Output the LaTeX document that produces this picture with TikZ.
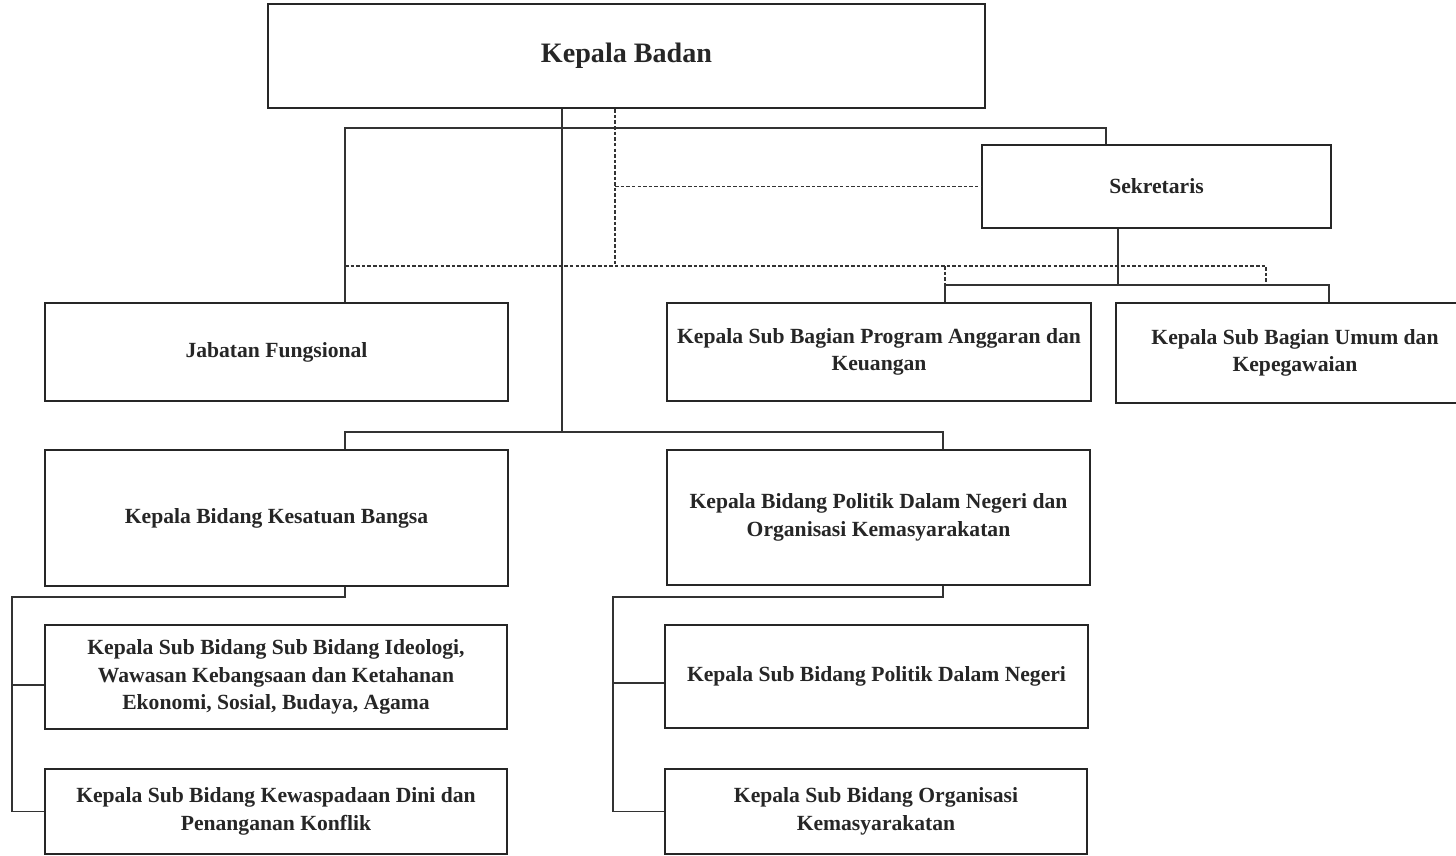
\documentclass[tikz,border=0pt]{standalone}
\usepackage{fontspec}
\setmainfont{Liberation Serif}
\usepackage{tikz}

\begin{document}
\begin{tikzpicture}[
        unit/.style={draw=black!85,line width=1.3pt,align=center,inner sep=2pt,
                     font=\fontsize{12.3}{15.6}\selectfont\bfseries,text=black!85},
        link/.style={black!80,line width=0.6pt},
        dlink/.style={black!80,line width=0.6pt,dash pattern=on 2pt off 1.2pt}
    ]
        \useasboundingbox (0,0) rectangle (29.12,-17.12);

        \node[unit,minimum width=14.34cm,minimum height=2.08cm,font=\fontsize{16}{19}\selectfont\bfseries] (kb) at (12.53,-1.12) {Kepala Badan};
        \node[unit,minimum width=6.98cm,minimum height=1.66cm] (sek) at (23.13,-3.73) {Sekretaris};

        \node[unit,minimum width=9.26cm,minimum height=1.96cm] (jab) at (5.53,-7.04) {Jabatan Fungsional};
        \node[unit,minimum width=8.48cm,minimum height=1.96cm] (prog) at (17.58,-7.04) {Kepala Sub Bagian Program Anggaran dan\\Keuangan};
        \node[unit,minimum width=7.16cm,minimum height=2.00cm] (umum) at (25.90,-7.06) {Kepala Sub Bagian Umum dan\\Kepegawaian};

        \node[unit,minimum width=9.26cm,minimum height=2.72cm] (kesb) at (5.53,-10.36) {Kepala Bidang Kesatuan Bangsa};
        \node[unit,minimum width=8.46cm,minimum height=2.70cm] (pol) at (17.57,-10.35) {Kepala Bidang Politik Dalam Negeri dan\\Organisasi Kemasyarakatan};

        \node[unit,minimum width=9.24cm,minimum height=2.08cm] (ideo) at (5.52,-13.54) {Kepala Sub Bidang Sub Bidang Ideologi,\\Wawasan Kebangsaan dan Ketahanan\\Ekonomi, Sosial, Budaya, Agama};
        \node[unit,minimum width=9.24cm,minimum height=1.70cm] (wasp) at (5.52,-16.23) {Kepala Sub Bidang Kewaspadaan Dini dan\\Penanganan Konflik};
        \node[unit,minimum width=8.46cm,minimum height=2.06cm] (polnd) at (17.53,-13.53) {Kepala Sub Bidang Politik Dalam Negeri};
        \node[unit,minimum width=8.44cm,minimum height=1.70cm] (ormas) at (17.52,-16.23) {Kepala Sub Bidang Organisasi\\Kemasyarakatan};

        % garis komando
        \coordinate (jabtop) at (6.9,-2.56);
        \coordinate (sektop) at (22.12,-2.56);
        \draw[link] (jab.north -| jabtop) -- (jabtop) -- (sektop) -- (sek.north -| sektop);

        \coordinate (kbdown) at (11.24,-8.64);
        \coordinate (kesbtee) at (6.9,-8.64);
        \coordinate (poltee) at (18.86,-8.64);
        \draw[link] (kb.south -| kbdown) -- (kbdown);
        \draw[link] (kesb.north -| kesbtee) -- (kesbtee) -- (poltee) -- (pol.north -| poltee);

        % garis koordinasi
        \coordinate (dashx) at (12.3,-5.32);
        \coordinate (dashl) at (6.9,-5.32);
        \coordinate (dashp) at (18.9,-5.32);
        \coordinate (dashr) at (25.32,-5.32);
        \coordinate (subbus) at (22.36,-5.70);
        \draw[dlink] (kb.south -| dashx) -- (dashx);
        \draw[dlink] (sek.west -| dashx) -- (sek.west);
        \draw[dlink] (dashl) -- (dashr) -- (dashr |- subbus);
        \draw[dlink] (dashp) -- (dashp |- subbus);

        % sekretariat
        \coordinate (progtee) at (18.9,-5.70);
        \coordinate (umumtee) at (26.58,-5.70);
        \draw[link] (sek.south -| subbus) -- (subbus);
        \draw[link] (prog.north -| progtee) -- (progtee) -- (umumtee) -- (umum.north -| umumtee);

        % bidang
        \coordinate (kesbl) at (0.24,-11.94);
        \coordinate (poll) at (12.26,-11.94);
        \coordinate (ideojoin) at (0.24,-13.70);
        \coordinate (polndjoin) at (12.26,-13.66);
        \draw[link] (kesb.south -| kesbtee) |- (kesbl) |- (wasp.west);
        \draw[link] (ideojoin) -- (ideo.west |- ideojoin);
        \draw[link] (pol.south -| poltee) |- (poll) |- (ormas.west);
        \draw[link] (polndjoin) -- (polnd.west |- polndjoin);
    \end{tikzpicture}
\end{document}
